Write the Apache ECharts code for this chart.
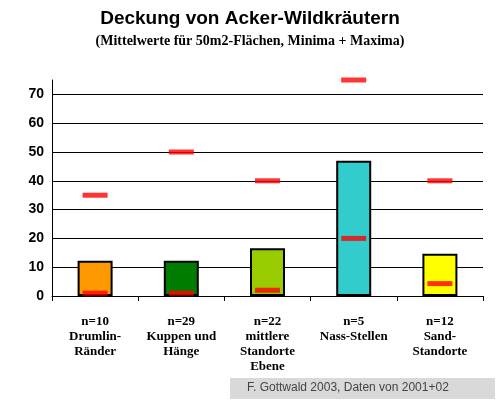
<!DOCTYPE html><html><head><meta charset="utf-8">
<script src="https://cdn.jsdelivr.net/npm/echarts@6/dist/echarts.min.js"></script>
<style>body{margin:0;background:#fff}#c{width:500px;height:409px}</style></head><body><div id="c"></div>
<script>
const categories=['n=10\nDrumlin-\nRänder','n=29\nKuppen und\nHänge','n=22\nmittlere\nStandorte\nEbene','n=5\nNass-Stellen','n=12\nSand-\nStandorte'];
const means=[12.2,12.2,16.6,47,14.7];
const minima=[1,1,2,20,4.3];
const maxima=[35,50,40,75,40];
const colors=['#ff9900','#007c00','#99cc00','#33cccc','#ffff00'];
const yTicks=[0,10,20,30,40,50,60,70];
const chart=echarts.init(document.getElementById('c'));
const redMark={type:'scatter',symbol:'rect',symbolSize:[25,5],itemStyle:{color:'#ff0000'},z:5};
chart.setOption({
 animation:false,
 title:{text:'Deckung von Acker-Wildkräutern',subtext:'(Mittelwerte für 50m2-Flächen, Minima + Maxima)',left:'center',top:4,itemGap:6,
  textStyle:{fontFamily:'Liberation Sans',fontWeight:'bold',fontSize:19,color:'#000'},
  subtextStyle:{fontFamily:'Liberation Serif',fontWeight:'bold',fontSize:14,color:'#000'}},
 graphic:[{type:'rect',left:230,top:378,shape:{width:265,height:21},style:{fill:'#d9d9d9'}},
  {type:'text',left:247,top:382,style:{text:'F. Gottwald 2003, Daten von 2001+02',font:'12px "Liberation Sans"',fill:'#444'}}],
 grid:{left:52,right:17,top:80,bottom:113},
 xAxis:{type:'category',data:categories,axisLine:{lineStyle:{color:'#000'}},axisTick:{show:true,lineStyle:{color:'#000'}},
  axisLabel:{color:'#000',fontFamily:'Liberation Serif',fontWeight:'bold',fontSize:13,lineHeight:15,margin:18,interval:0}},
 yAxis:{type:'value',min:0,max:75,interval:10,axisLine:{show:true,lineStyle:{color:'#000'}},axisTick:{show:false},
  splitLine:{showMaxLine:false,lineStyle:{color:'#000'}},
  axisLabel:{color:'#000',fontFamily:'Liberation Sans',fontWeight:'bold',fontSize:14,showMaxLabel:false,
   formatter:v=>yTicks.includes(v)?String(v):''}},
 series:[
  {type:'bar',barWidth:35,data:means.map((v,i)=>({value:v,itemStyle:{color:colors[i],borderColor:'#000',borderWidth:2}}))},
  Object.assign({data:minima},redMark),
  Object.assign({data:maxima},redMark)
 ]
});
</script></body></html>
